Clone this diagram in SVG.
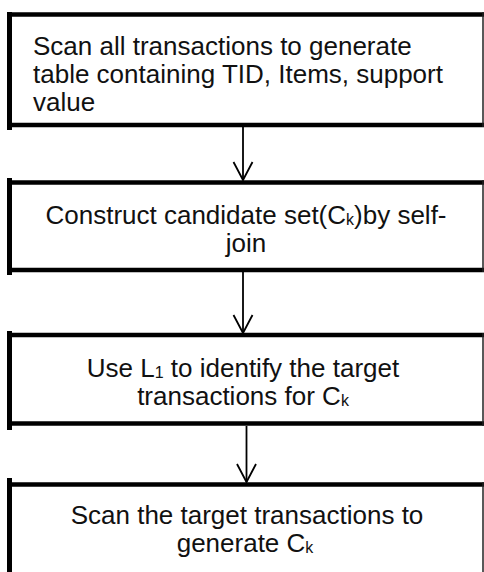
<svg xmlns="http://www.w3.org/2000/svg" width="484" height="572" viewBox="0 0 484 572">
<style>
.t{font-family:"Liberation Sans",Arial,sans-serif;font-size:26px;fill:#111}
.c{text-anchor:middle}
.s{font-size:16px}
.thick{stroke:#000;stroke-width:4.5;fill:none}
.bar{stroke:#000;stroke-width:5;fill:none}
.thin{stroke:#222;stroke-width:1.5;fill:none}
.conn{stroke:#000;stroke-width:1.8;fill:none}
</style>
<defs>
<marker id="v" markerUnits="userSpaceOnUse" viewBox="-20 -11 22 22" markerWidth="22" markerHeight="22" refX="0" refY="0" orient="auto" overflow="visible">
<path d="M-18,-9.5 L0,0 L-18,9.5" stroke="#000" stroke-width="1.8" fill="none"/>
</marker>
</defs>
<rect width="484" height="572" fill="#fff"/>
<g id="connectors">
<line class="conn" x1="243" y1="127" x2="243" y2="180" marker-end="url(#v)"/>
<line class="conn" x1="243" y1="272" x2="243" y2="333" marker-end="url(#v)"/>
<line class="conn" x1="246.5" y1="426" x2="246.5" y2="482" marker-end="url(#v)"/>
</g>
<g id="n1">
<line class="thick" x1="7" y1="14.5" x2="484" y2="14.5"/>
<line class="thick" x1="7" y1="125" x2="484" y2="125"/>
<line class="bar" x1="9.5" y1="12" x2="9.5" y2="130"/>
<line class="thin" x1="483" y1="12" x2="483" y2="127"/>
<text class="t" x="33" y="55">Scan all transactions to generate</text>
<text class="t" x="33" y="83">table containing TID, Items, support</text>
<text class="t" x="33" y="110.5">value</text>
</g>
<g id="n2">
<line class="thick" x1="7" y1="182.5" x2="484" y2="182.5"/>
<line class="thick" x1="7" y1="270" x2="484" y2="270"/>
<line class="bar" x1="9.5" y1="178" x2="9.5" y2="275"/>
<line class="thin" x1="483" y1="180" x2="483" y2="272"/>
<text class="t c" x="246" y="223.5">Construct candidate set(C<tspan class="s" dy="1">k</tspan><tspan dy="-1">)by self-</tspan></text>
<text class="t c" x="246" y="251.5">join</text>
</g>
<g id="n3">
<line class="thick" x1="7" y1="335" x2="484" y2="335"/>
<line class="thick" x1="7" y1="423.5" x2="484" y2="423.5"/>
<line class="bar" x1="9.5" y1="331" x2="9.5" y2="430"/>
<line class="thin" x1="483" y1="333" x2="483" y2="426"/>
<text class="t c" x="243" y="377">Use L<tspan class="s" dy="1">1</tspan><tspan dy="-1"> to identify the target</tspan></text>
<text class="t c" x="243" y="405">transactions for C<tspan class="s" dy="1">k</tspan></text>
</g>
<g id="n4">
<line class="thick" x1="7" y1="484.5" x2="484" y2="484.5"/>
<line class="bar" x1="9.5" y1="478" x2="9.5" y2="572"/>
<line class="thin" x1="483" y1="482" x2="483" y2="572"/>
<text class="t c" x="247" y="523.5">Scan the target transactions to</text>
<text class="t c" x="245" y="551.5">generate C<tspan class="s" dy="1">k</tspan></text>
</g>
</svg>
